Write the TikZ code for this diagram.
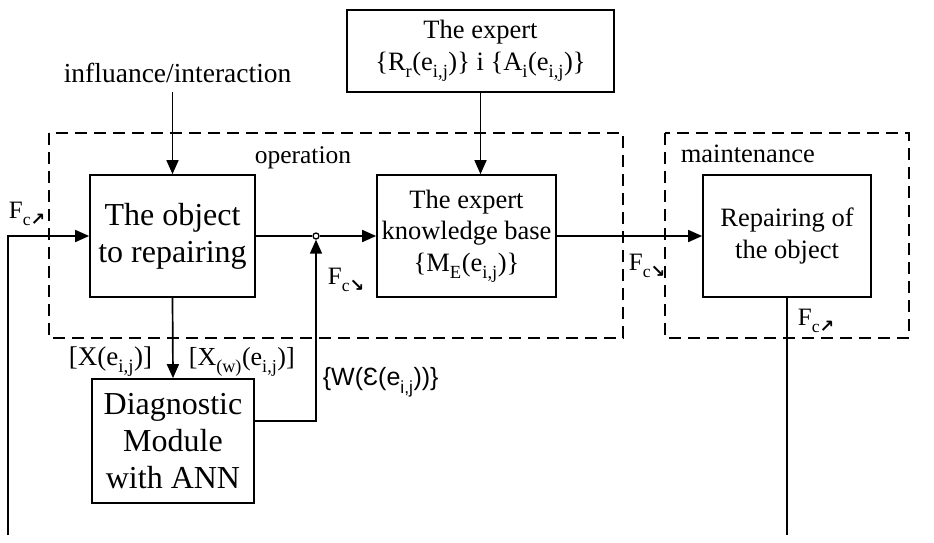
\documentclass[tikz,border=0pt]{standalone}
\usepackage{fontspec}
\setmainfont{Liberation Serif}
\newfontfamily\sflab{Liberation Sans}
\newfontfamily\arrfont{DejaVu Sans}
\usetikzlibrary{arrows.meta}
\newcommand{\lsub}[1]{\raisebox{-0.3ex}{\textsubscript{#1}}}
\newcommand{\fcne}{F\lsub{c{\arrfont\bfseries ↗}}}
\newcommand{\fcse}{F\lsub{c{\arrfont\bfseries ↘}}}
\newcommand{\eij}{e\lsub{i,j}}
\begin{document}
\begin{tikzpicture}[x=1pt,y=-1pt,line width=1.7pt,
  >={Triangle[length=14pt,width=12pt]},
  box/.style={draw,line width=1.7pt,align=center,inner sep=0pt},
  region/.style={draw,dashed,dash pattern=on 12pt off 7pt,line width=1.5pt},
  lab/.style={inner sep=0pt,anchor=base west,font=\fontsize{25}{30}\selectfont},
  big/.style={font=\fontsize{32}{37}\selectfont},
  mid/.style={font=\fontsize{26.5}{31.5}\selectfont}]
\useasboundingbox (0,0) rectangle (934,542);
% regions
\draw[region] (49,133) rectangle (623,338);
\draw[region] (665,133) rectangle (909,338);
\node[lab,font=\fontsize{25.5}{30}\selectfont] (oplab) at (254,163) {operation};
\node[lab,font=\fontsize{26.5}{30}\selectfont] (mlab) at (680,162) {maintenance};
% boxes
\node[box,big,minimum width=165pt,minimum height=122pt] (obj) at (172.5,236) {The object\\to repairing};
\node[box,mid,minimum width=179pt,minimum height=122pt] (kb) at (466.5,236) {The expert\\knowledge base\\\{M\lsub{E}(\eij)\}};
\node[box,mid,minimum width=168pt,minimum height=122pt] (rep) at (787,236) {Repairing of\\the object};
\node[box,mid,minimum width=267pt,minimum height=82pt] (exp) at (480.5,51) {The expert\\\{R\lsub{r}(\eij)\} i \{A\lsub{i}(\eij)\}};
\node[box,big,minimum width=162pt,minimum height=124pt] (diag) at (173,441) {Diagnostic\\Module\\with ANN};
% labels
\node[lab,font=\fontsize{27.5}{30}\selectfont] (infl) at (63,82) {influance/interaction};
\node[lab] (fc1) at (8,218) {\fcne};
\node[lab] (fc2) at (327,284) {\fcse};
\node[lab] (fc3) at (628,270) {\fcse};
\node[lab] (fc4) at (797,325) {\fcne};
\node[lab,anchor=base east,font=\fontsize{27}{30}\selectfont] (x1) at (153,365) {[X(\eij)]};
\node[lab,font=\fontsize{26}{30}\selectfont] (x2) at (188,365) {[X\lsub{(w)}(\eij)]};
\node[lab,font=\sflab\fontsize{25}{30}\selectfont] (wlab) at (322,385) {\{W(Ɛ(\eij))\}};
% junction
\node[circle,draw,fill=white,inner sep=0pt,minimum size=6pt,line width=1.3pt] (jn) at (316,236) {};
\coordinate (fbL) at (8,535);
\coordinate (fbR) at (787,535);
% connectors
\draw[->] (fbL) |- (obj.west);
\draw[->] (obj.north |- 0,92) -- (obj.north);
\draw[->] (exp.south) -- (exp.south |- kb.north);
\draw (obj.east) -- (jn.west);
\draw[->] (jn.east) -- (kb.west);
\draw[->] (kb.east) -- (rep.west);
\draw (rep.south) -- (fbR);
\draw[->] (obj.south) -- (diag.north);
\draw[->] ([yshift=20pt]diag.east) -| (jn.south);
\end{tikzpicture}
\end{document}
